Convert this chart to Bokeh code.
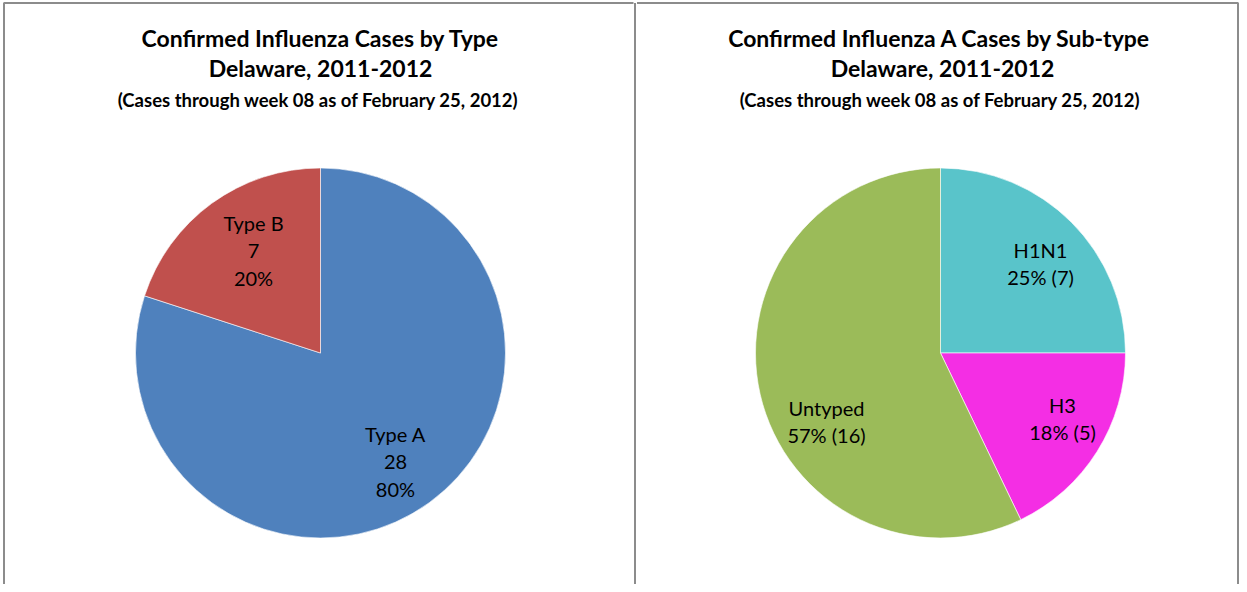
import numpy as np
from bokeh.plotting import figure
from bokeh.models import Range1d, ColumnDataSource
from bokeh.core.properties import value
from bokeh.embed import file_html
from bokeh.resources import INLINE

# ---- data ----
type_names = ["Type A", "Type B"]
type_counts = [28, 7]
type_colors = ["#4F81BD", "#C0504D"]

sub_names = ["H1N1", "H3", "Untyped"]
sub_counts = [7, 5, 16]
sub_colors = ["#59C4CA", "#F42EE4", "#9BBB59"]

title_left = ["Confirmed Influenza Cases by Type", "Delaware, 2011-2012",
              "(Cases through  week 08 as of February 25, 2012)"]
title_right = ["Confirmed Influenza  A Cases by Sub-type", "Delaware, 2011-2012",
               "(Cases through  week 08 as of February 25, 2012)"]

# ---- layout (pixel coordinates of the picture) ----
W, H = 1239, 584
FONT = "Lato"


def Y(py):
    return H - py


p = figure(width=W, height=H, output_backend="svg", toolbar_location=None,
           x_range=Range1d(0, W), y_range=Range1d(0, H),
           min_border=0, outline_line_color=None)
p.axis.visible = False
p.grid.visible = False
p.background_fill_color = "white"

# panel borders
bc = "#8C8C8C"
p.segment(x0=[3, 3.5, 634.5, 636.5, 1237.5], y0=[Y(2.5), Y(2.5), Y(2.5), Y(2.5), Y(2.5)],
          x1=[633, 3.5, 634.5, 1238, 1237.5], y1=[Y(2.5), Y(600), Y(600), Y(2.5), Y(600)],
          line_color=bc, line_width=2)


def pie(counts, colors, cx, cy, r):
    counts = np.array(counts, dtype=float)
    frac = counts / counts.sum()
    cum = np.concatenate([[0], np.cumsum(frac)])
    start = np.pi / 2 - 2 * np.pi * cum[:-1]
    end = np.pi / 2 - 2 * np.pi * cum[1:]
    src = ColumnDataSource(dict(start=start, end=end, color=colors))
    p.wedge(x=cx, y=Y(cy), radius=r, start_angle="start", end_angle="end",
            direction="clock", fill_color="color", line_color="white",
            line_width=0.6, source=src)
    return frac


frac_l = pie(type_counts, type_colors, 320, 352.5, 185)
frac_r = pie(sub_counts, sub_colors, 940, 352.5, 185)

# labels
lbl_l_pos = [(395, 461), (253, 250)]
lbl_l = [f"{n}\n{c}\n{round(f * 100):.0f}%" for n, c, f in zip(type_names, type_counts, frac_l)]
p.text(x=[q[0] for q in lbl_l_pos], y=[Y(q[1]) for q in lbl_l_pos], text=lbl_l,
       text_align="center", text_baseline="middle", text_font=value(FONT),
       text_font_size="20px", text_line_height=1.15, text_color="black")

lbl_r_pos = [(1040, 263), (1062, 418), (826, 421)]
lbl_r = [f"{n}\n{round(f * 100):.0f}% ({c})" for n, c, f in zip(sub_names, sub_counts, frac_r)]
p.text(x=[q[0] for q in lbl_r_pos], y=[Y(q[1]) for q in lbl_r_pos], text=lbl_r,
       text_align="center", text_baseline="middle", text_font=value(FONT),
       text_font_size="20px", text_line_height=1.15, text_color="black")

# titles
for cx, lines in [(320, title_left), (942, title_right)]:
    p.text(x=[cx, cx], y=[Y(37), Y(67)], text=lines[:2], text_align="center",
           text_baseline="middle", text_font=value(FONT), text_font_size="23px",
           text_font_style="bold", text_color="black")
    p.text(x=[cx], y=[Y(99)], text=[lines[2]], text_align="center",
           text_baseline="middle", text_font=value(FONT), text_font_size="18.5px",
           text_font_style="bold", text_color="black")

open("out.html", "w").write(file_html(p, INLINE))
